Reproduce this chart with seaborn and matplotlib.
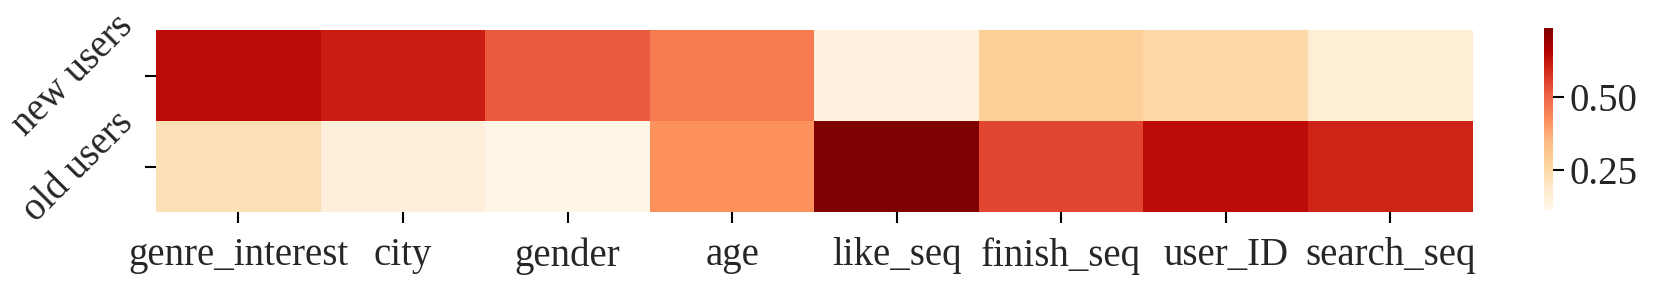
import numpy as np
import pandas as pd
import matplotlib
matplotlib.use("Agg")
import matplotlib.pyplot as plt
import seaborn as sns

sns.set_theme(style="white")
plt.rcParams['font.family'] = ['Liberation Serif', 'DejaVu Serif']

features = ["genre_interest", "city", "gender", "age", "like_seq", "finish_seq", "user_ID", "search_seq"]
groups = ["new users", "old users"]
new_users = [0.64, 0.61, 0.52, 0.46, 0.14, 0.28, 0.25, 0.16]
old_users = [0.22, 0.15, 0.12, 0.42, 0.74, 0.55, 0.64, 0.60]

df = pd.DataFrame([new_users, old_users], index=groups, columns=features)

fig = plt.figure(figsize=(16.62, 2.81), dpi=100)
ax = fig.add_axes([0.094, 0.245, 0.792, 0.648])
cax = fig.add_axes([0.929, 0.253, 0.0055, 0.647])

sns.heatmap(df, ax=ax, cbar_ax=cax, cmap="OrRd", vmin=0.11, vmax=0.74,
            cbar_kws={"ticks": [0.25, 0.50]})

ax.tick_params(axis="both", which="both", length=8, width=1.5, color="black",
               labelsize=28, bottom=True, left=True)
ax.tick_params(axis="x", pad=10)
ax.tick_params(axis="y", pad=3)
ax.set_xticklabels(features, rotation=0)
ax.set_yticklabels(groups, rotation=45, va="center")
ax.set_xlabel("")
ax.set_ylabel("")

cax.tick_params(length=8, width=1.5, labelsize=28, right=True, color="black")
cax.yaxis.set_major_formatter(matplotlib.ticker.FormatStrFormatter("%.2f"))
for s in cax.spines.values():
    s.set_visible(False)

fig.savefig("out.png", dpi=100)
